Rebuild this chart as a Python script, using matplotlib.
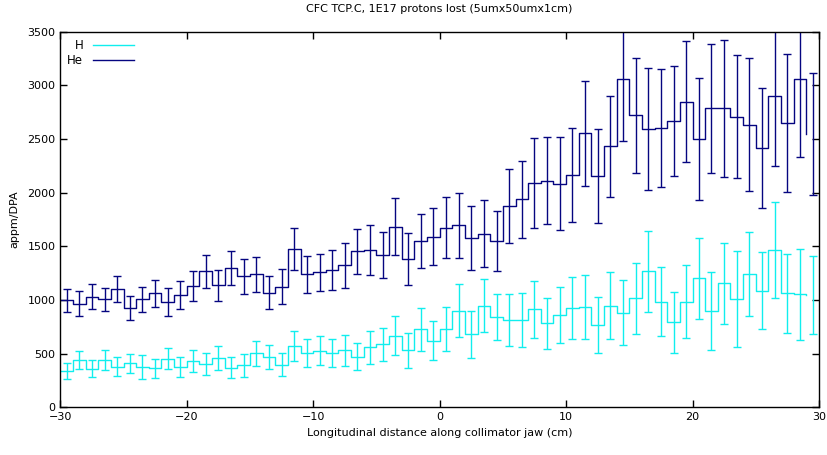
import numpy as np
import matplotlib.pyplot as plt

# bin centres along the jaw (cm), 1 cm bins from -30 to 30
x = np.arange(-29.5, 30, 1.0)

# H production (appm/DPA) and statistical error
h = [343, 442, 361, 442, 380, 411, 380, 365, 454, 380,
     436, 405, 464, 371, 393, 505, 467, 399, 575, 507,
     529, 505, 532, 473, 560, 588, 668, 535, 728, 622,
     728, 901, 681, 948, 845, 815, 815, 914, 784, 861,
     929, 936, 768, 948, 883, 1017, 1268, 985, 796, 985,
     1203, 901, 1156, 1013, 1243, 1087, 1466, 1063, 1054, 1047]
h_err = [73, 87, 78, 90, 90, 87, 110, 90, 100, 93,
         101, 103, 113, 100, 106, 117, 112, 106, 142, 132,
         136, 132, 142, 126, 157, 156, 180, 163, 203, 180,
         205, 245, 219, 247, 213, 238, 251, 264, 240, 264,
         289, 301, 259, 311, 301, 332, 377, 321, 284, 342,
         376, 364, 379, 446, 390, 357, 447, 365, 426, 366]

# He production (appm/DPA) and statistical error
he = [1001, 967, 1032, 1007, 1100, 929, 1007, 1063, 982, 1050,
      1131, 1268, 1137, 1299, 1221, 1240, 1069, 1125, 1476, 1240,
      1258, 1280, 1324, 1454, 1466, 1420, 1683, 1383, 1550, 1590,
      1674, 1696, 1578, 1618, 1553, 1876, 1938, 2093, 2112, 2084,
      2165, 2556, 2158, 2432, 3058, 2720, 2590, 2602, 2670, 2847,
      2500, 2785, 2785, 2707, 2633, 2416, 2897, 2652, 3061, 2545]
he_err = [107, 117, 116, 106, 121, 113, 118, 127, 127, 130,
          143, 152, 147, 158, 161, 161, 155, 161, 197, 175,
          175, 190, 207, 212, 231, 214, 265, 238, 254, 265,
          285, 304, 302, 313, 280, 346, 357, 421, 403, 431,
          440, 489, 440, 470, 577, 538, 568, 550, 515, 563,
          567, 603, 635, 574, 621, 560, 650, 642, 729, 568]

c_h = '#10eeee'
c_he = '#050580'

plt.rcParams['font.family'] = ['DejaVu Sans']
plt.rcParams['font.size'] = 8

fig = plt.figure(figsize=(8.27, 4.55), dpi=100)
ax = fig.add_axes([0.0729, 0.1044, 0.9174, 0.8259])

for y, e, c, lab in [(h, h_err, c_h, 'H'), (he, he_err, c_he, 'He')]:
    ax.step(x - 0.5, y, where='post', color=c, lw=1.0, label=lab)
    ax.errorbar(x, y, yerr=e, fmt='none', ecolor=c, elinewidth=1.0,
                capsize=3, capthick=1.0)

ax.set_xlim(-30, 30)
ax.set_ylim(0, 3500)
ax.set_xticks(np.arange(-30, 31, 10))
ax.set_yticks(np.arange(0, 3501, 500))
ax.tick_params(direction='in', top=True, right=True, length=5, width=1)
for s in ax.spines.values():
    s.set_linewidth(1)

ax.set_title('CFC TCP.C, 1E17 protons lost (5umx50umx1cm)', fontsize=8, pad=14)
ax.set_xlabel('Longitudinal distance along collimator jaw (cm)', fontsize=8)
ax.set_ylabel('appm/DPA', fontsize=8, labelpad=6)

ax.legend(loc='upper left', frameon=False, markerfirst=False,
          handlelength=3.5, borderaxespad=0.2, labelspacing=0.2,
          fontsize=8.5)

fig.savefig('out.png', dpi=100)
